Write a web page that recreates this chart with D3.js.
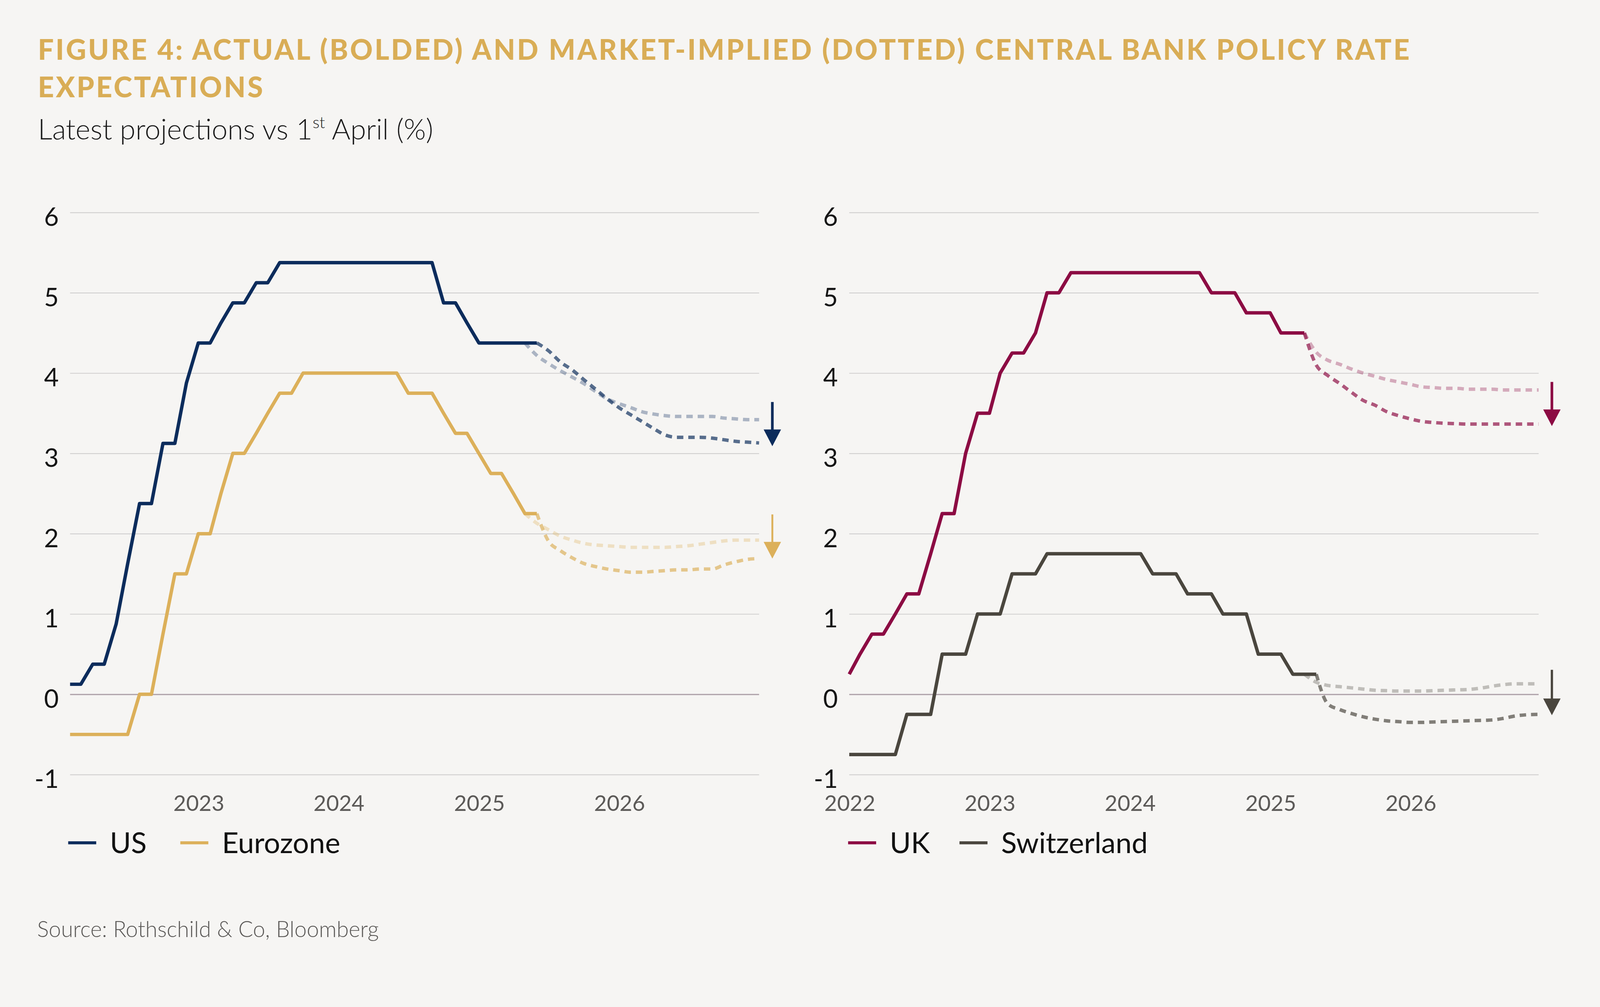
<!DOCTYPE html>
<html>
<head>
<meta charset="utf-8">
<script src="https://cdn.jsdelivr.net/npm/d3@7"></script>
<style>
  html, body { margin: 0; padding: 0; background: #f6f5f3; overflow: hidden; }
  svg { display: block; width: 100%; height: auto; font-family: Lato, "Open Sans", sans-serif; }
</style>
</head>
<body>
<svg id="chart"></svg>
<script>
// month index 0 = Jan 2022 ... 59 = Dec 2026 (month-end values)
var yTicks = [-1, 0, 1, 2, 3, 4, 5, 6]
var leftYears = [2023, 2024, 2025, 2026]
var rightYears = [2022, 2023, 2024, 2025, 2026]

// actual policy rates, from Jan 2022
var usActual = [0.125, 0.125, 0.375, 0.375, 0.875, 1.625, 2.375, 2.375, 3.125, 3.125, 3.875, 4.375,
                4.375, 4.625, 4.875, 4.875, 5.125, 5.125, 5.375, 5.375, 5.375, 5.375, 5.375, 5.375,
                5.375, 5.375, 5.375, 5.375, 5.375, 5.375, 5.375, 5.375, 4.875, 4.875, 4.625, 4.375,
                4.375, 4.375, 4.375, 4.375, 4.375]
var ezActual = [-0.5, -0.5, -0.5, -0.5, -0.5, -0.5, 0, 0, 0.75, 1.5, 1.5, 2.0,
                2.0, 2.5, 3.0, 3.0, 3.25, 3.5, 3.75, 3.75, 4.0, 4.0, 4.0, 4.0,
                4.0, 4.0, 4.0, 4.0, 4.0, 3.75, 3.75, 3.75, 3.5, 3.25, 3.25, 3.0,
                2.75, 2.75, 2.5, 2.25, 2.25]
var ukActual = [0.25, 0.5, 0.75, 0.75, 1.0, 1.25, 1.25, 1.75, 2.25, 2.25, 3.0, 3.5,
                3.5, 4.0, 4.25, 4.25, 4.5, 5.0, 5.0, 5.25, 5.25, 5.25, 5.25, 5.25,
                5.25, 5.25, 5.25, 5.25, 5.25, 5.25, 5.25, 5.0, 5.0, 5.0, 4.75, 4.75,
                4.75, 4.5, 4.5, 4.5]
var chActual = [-0.75, -0.75, -0.75, -0.75, -0.75, -0.25, -0.25, -0.25, 0.5, 0.5, 0.5, 1.0,
                1.0, 1.0, 1.5, 1.5, 1.5, 1.75, 1.75, 1.75, 1.75, 1.75, 1.75, 1.75,
                1.75, 1.75, 1.5, 1.5, 1.5, 1.25, 1.25, 1.25, 1.0, 1.0, 1.0, 0.5,
                0.5, 0.5, 0.25, 0.25, 0.25]

// market-implied paths: latest (from month 40 / 39) and as of 1st April (from month 39)
var usLatest = [4.375, 4.28, 4.14, 4.04, 3.92, 3.80, 3.68, 3.57, 3.48, 3.40, 3.31, 3.23, 3.20, 3.20, 3.20, 3.19, 3.17, 3.15, 3.14, 3.13]
var usApril  = [4.375, 4.22, 4.12, 4.03, 3.95, 3.87, 3.77, 3.68, 3.62, 3.57, 3.52, 3.49, 3.47, 3.46, 3.46, 3.46, 3.46, 3.44, 3.43, 3.42, 3.42]
var ezLatest = [2.25, 1.91, 1.79, 1.70, 1.63, 1.59, 1.56, 1.54, 1.52, 1.52, 1.53, 1.54, 1.55, 1.55, 1.56, 1.56, 1.61, 1.65, 1.68, 1.69]
var ezApril  = [2.25, 2.13, 2.05, 1.97, 1.92, 1.88, 1.86, 1.85, 1.84, 1.83, 1.83, 1.83, 1.83, 1.84, 1.85, 1.87, 1.89, 1.91, 1.92, 1.92, 1.92]
var ukLatest = [4.5, 4.10, 3.97, 3.87, 3.76, 3.66, 3.60, 3.52, 3.47, 3.43, 3.40, 3.385, 3.375, 3.37, 3.365, 3.365, 3.365, 3.365, 3.365, 3.365, 3.365]
var ukApril  = [4.5, 4.26, 4.16, 4.11, 4.05, 4.00, 3.96, 3.92, 3.89, 3.86, 3.83, 3.82, 3.81, 3.81, 3.80, 3.80, 3.80, 3.79, 3.79, 3.79, 3.79]
var chLatest = [0.25, -0.12, -0.19, -0.24, -0.28, -0.31, -0.33, -0.34, -0.35, -0.35, -0.345, -0.34, -0.335, -0.33, -0.325, -0.32, -0.30, -0.27, -0.255, -0.25]
var chApril  = [0.25, 0.15, 0.11, 0.095, 0.08, 0.065, 0.05, 0.045, 0.04, 0.04, 0.04, 0.045, 0.05, 0.055, 0.06, 0.075, 0.10, 0.12, 0.13, 0.13, 0.13]

// change arrows [from, to]
var usArrow = [3.64, 3.09]
var ezArrow = [2.24, 1.69]
var ukArrow = [3.89, 3.34]
var chArrow = [0.305, -0.26]

var dimensions = {
    width: 4224,
    height: 2578,
    top: 561,
    bottom: 2045
}

var colors = { US: "#0c2c5c", Eurozone: "#dcb05a", UK: "#8c0b43", Switzerland: "#4a463e" }

var monthEnd = i => new Date(2022, i + 1, 0)
var toPoints = (values, start) => values.map((v, k) => ({ date: monthEnd(start + k), value: v }))

var panels = [
    { x0: 185, x1: 2004, years: leftYears, tickMonth: 0, legendX: [180, 476],
      series: [
        { name: "US", actual: usActual, latest: usLatest, latestStart: 40, april: usApril, aprilStart: 39, arrow: usArrow, shaft: 7 },
        { name: "Eurozone", actual: ezActual, latest: ezLatest, latestStart: 40, april: ezApril, aprilStart: 39, arrow: ezArrow, shaft: 5 }
      ] },
    { x0: 2242, x1: 4062, years: rightYears, tickMonth: 1, legendX: [2239, 2533],
      series: [
        { name: "UK", actual: ukActual, latest: ukLatest, latestStart: 39, april: ukApril, aprilStart: 39, arrow: ukArrow, shaft: 7 },
        { name: "Switzerland", actual: chActual, latest: chLatest, latestStart: 40, april: chApril, aprilStart: 39, arrow: chArrow, shaft: 6 }
      ] }
]

var svg = d3.select("#chart")
            .attr("viewBox", `0 0 ${dimensions.width} ${dimensions.height}`)

svg.append("rect")
   .attr("width", dimensions.width)
   .attr("height", dimensions.height)
   .attr("fill", "#f6f5f3")

// title
var titleLines = ["FIGURE 4: ACTUAL (BOLDED) AND MARKET-IMPLIED (DOTTED) CENTRAL BANK POLICY RATE", "EXPECTATIONS"]
var title = svg.append("g")
               .selectAll("text")
               .data(titleLines)
               .enter()
               .append("text")
               .attr("x", 100)
               .attr("y", (d, i) => 158 + i * 99)
               .attr("fill", "#d9ad56")
               .style("font-size", "74px")
               .style("font-weight", 900)
               .text(d => d)

var firstLine = title.nodes()[0]
var spacing = (3626 - firstLine.getComputedTextLength()) / titleLines[0].length
title.style("letter-spacing", spacing + "px")

var subtitle = svg.append("text")
                  .attr("x", 100)
                  .attr("y", 368)
                  .attr("fill", "#1a1a1a")
                  .style("font-size", "75px")
                  .style("font-weight", 300)
subtitle.append("tspan").text("Latest projections vs 1")
subtitle.append("tspan").attr("dy", -30).style("font-size", "43px").text("st")
subtitle.append("tspan").attr("dy", 30).text(" April (%)")

var yScale = d3.scaleLinear()
               .domain([-1, 6])
               .range([dimensions.bottom, dimensions.top])

panels.forEach(panel => {
    var xScale = d3.scaleTime()
                   .domain([monthEnd(0), monthEnd(59)])
                   .range([panel.x0, panel.x1])

    var g = svg.append("g")

    // horizontal gridlines and value labels
    var yAxisGen = d3.axisLeft(yScale)
                     .tickValues(yTicks)
                     .tickSize(-(panel.x1 - panel.x0))
                     .tickPadding(30)
                     .tickFormat(d => String(d))
    var yAxis = g.append("g")
                 .attr("transform", `translate(${panel.x0},0)`)
                 .call(yAxisGen)
    yAxis.select(".domain").remove()
    yAxis.selectAll("line")
         .attr("stroke", d => d === 0 ? "#ab9ea6" : "#cbcaca")
         .attr("stroke-width", d => d === 0 ? 3 : 2)
    yAxis.selectAll("text")
         .attr("dy", "0.52em")
         .attr("fill", "#151515")
         .style("font-family", "Lato, sans-serif")
         .style("font-size", "67px")

    var xAxisGen = d3.axisBottom(xScale)
                     .tickValues(panel.years.map(y => new Date(y, panel.tickMonth, 1)))
                     .tickFormat(d3.timeFormat("%Y"))
                     .tickSize(0)
                     .tickPadding(55)
    var xAxis = g.append("g")
                 .attr("transform", `translate(0,${dimensions.bottom})`)
                 .call(xAxisGen)
    xAxis.select(".domain").remove()
    xAxis.selectAll("text")
         .attr("fill", "#5c5a58")
         .style("font-family", "Lato, sans-serif")
         .style("font-size", "58px")

    var line = d3.line()
                 .x(d => xScale(d.date))
                 .y(d => yScale(d.value))
    var smooth = d3.line()
                   .x(d => xScale(d.date))
                   .y(d => yScale(d.value))
                   .curve(d3.curveMonotoneX)

    panel.series.forEach(s => {
        g.append("path")
         .datum(toPoints(s.april, s.aprilStart))
         .attr("d", smooth)
         .attr("fill", "none")
         .attr("stroke", colors[s.name])
         .attr("stroke-opacity", 0.32)
         .attr("stroke-width", 9)
         .attr("stroke-dasharray", "17,13")
    })
    panel.series.forEach(s => {
        g.append("path")
         .datum(toPoints(s.latest, s.latestStart))
         .attr("d", smooth)
         .attr("fill", "none")
         .attr("stroke", colors[s.name])
         .attr("stroke-opacity", 0.68)
         .attr("stroke-width", 9)
         .attr("stroke-dasharray", "17,13")
    })
    panel.series.forEach(s => {
        g.append("path")
         .datum(toPoints(s.actual, 0))
         .attr("d", line)
         .attr("fill", "none")
         .attr("stroke", colors[s.name])
         .attr("stroke-width", 9)
         .attr("stroke-linejoin", "round")
    })

    // arrows showing the shift since 1st April
    panel.series.forEach(s => {
        var ax = panel.x1 + 35
        var yFrom = yScale(s.arrow[0])
        var yTo = yScale(s.arrow[1])
        g.append("line")
         .attr("x1", ax).attr("x2", ax)
         .attr("y1", yFrom).attr("y2", yTo - 30)
         .attr("stroke", colors[s.name])
         .attr("stroke-width", s.shaft)
        g.append("path")
         .attr("d", `M${ax - 23},${yTo - 44}L${ax + 23},${yTo - 44}L${ax},${yTo}Z`)
         .attr("fill", colors[s.name])
    })

    // legend
    var legend = g.selectAll(".legend")
                  .data(panel.series)
                  .enter()
                  .append("g")
                  .attr("transform", (d, i) => `translate(${panel.legendX[i]},2225)`)
    legend.append("line")
          .attr("x1", 0).attr("x2", 74)
          .attr("stroke", d => colors[d.name])
          .attr("stroke-width", 8)
    legend.append("text")
          .attr("x", 110)
          .attr("y", 27)
          .attr("fill", "#111")
          .style("font-size", "76px")
          .text(d => d.name)
})

svg.append("text")
   .attr("x", 98)
   .attr("y", 2474)
   .attr("fill", "#5a5856")
   .style("font-size", "58px")
   .style("font-weight", 300)
   .text("Source: Rothschild & Co, Bloomberg")
</script>
</body>
</html>
